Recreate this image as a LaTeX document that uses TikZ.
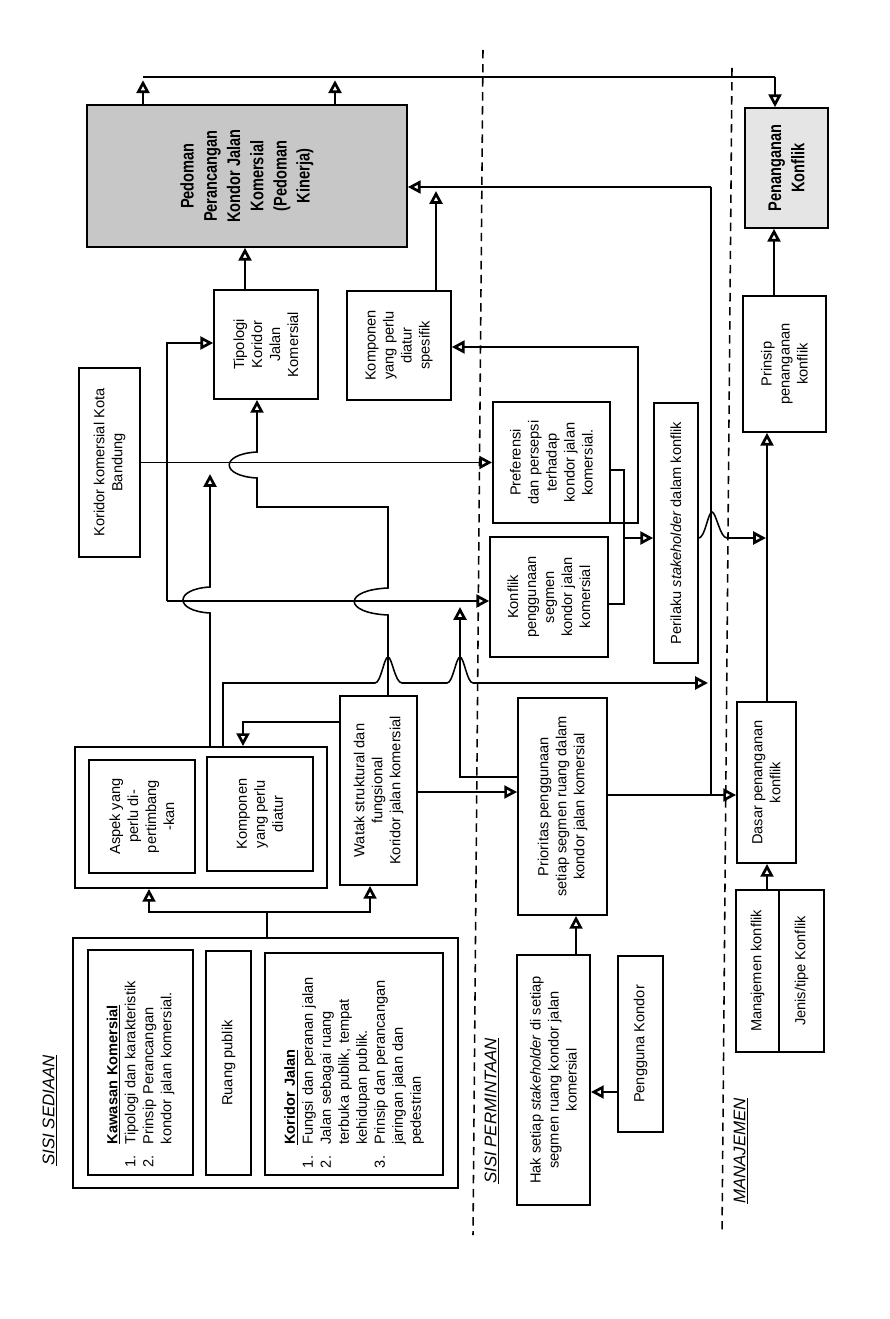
\documentclass[tikz,border=0pt]{standalone}
\usepackage{fontspec}
\setmainfont{Liberation Sans}
\newfontfamily\titlefont[FakeStretch=0.8]{Liberation Sans}
\usepackage{tikz}
\usetikzlibrary{arrows.meta}
\usetikzlibrary{calc}

\begin{document}
\begin{tikzpicture}[x=0.025cm, y=-0.025cm,
  box/.style={rectangle, draw=black, line width=1.1pt, rotate=90, align=center, inner sep=2pt,
    font=\fontsize{10.4}{12.8}\selectfont},
  greybox/.style={box, fill=black!22, font=\titlefont\bfseries\fontsize{13}{16.5}\selectfont},
  line/.style={draw=black, line width=1.1pt},
  arr/.style={line, -{Triangle[open, length=3.2mm, width=3.2mm, line width=1.9pt]}},
  side/.style={rotate=90, font=\itshape\fontsize{12}{14}\selectfont},
  divider/.style={draw=black, line width=1.1pt, dash pattern=on 6pt off 4pt}]
\useasboundingbox (0,0) rectangle (889,1319);

% sisi sediaan
\node [box, minimum width=6.25cm, minimum height=9.63cm] (sediaan) at (265.5,1063) {};
\node [box, minimum width=5.63cm, minimum height=2.63cm, text width=5.25cm, align=left] (kawasan) at (140.5,1062.5)
  {\hspace*{1.6em}\underline{\textbf{Kawasan Komersial}}\\
   \makebox[1.6em][l]{1.}Tipologi dan karakteristik\\
   \makebox[1.6em][l]{2.}Prinsip Perancangan\\
   \hspace*{1.6em}kondor jalan komersial.};
\node [box, minimum width=5.6cm, minimum height=1.13cm] (ruang) at (228.5,1063) {Ruang publik};
\node [box, minimum width=5.55cm, minimum height=4.45cm, text width=5.2cm, align=left] (koridor) at (354,1064)
  {\hspace*{1.6em}\underline{\textbf{Koridor Jalan}}\\
   \makebox[1.6em][l]{1.}Fungsi dan peranan jalan\\
   \makebox[1.6em][l]{2.}Jalan sebagai ruang\\
   \hspace*{1.6em}terbuka publik, tempat\\
   \hspace*{1.6em}kehidupan publik.\\
   \makebox[1.6em][l]{3.}Prinsip dan perancangan\\
   \hspace*{1.6em}jaringan jalan dan\\
   \hspace*{1.6em}pedestrian};

\node [box, minimum width=3.53cm, minimum height=6.3cm] (aspekgrp) at (201,817.5) {};
\node [box, minimum width=2.83cm, minimum height=2.65cm] (aspek) at (142,816.5) {Aspek yang\\perlu di-\\pertimbang\\-kan};
\node [box, minimum width=2.85cm, minimum height=2.65cm] (komponen) at (260,814) {Komponen\\yang perlu\\diatur};
\node [box, minimum width=4.73cm, minimum height=1.93cm] (watak) at (378.5,790.5) {Watak struktural dan\\fungsional\\Koridor jalan komersial};

\node [box, minimum width=4.73cm, minimum height=1.53cm] (bandung) at (109.5,462.5) {Koridor komersial Kota\\Bandung};
\node [box, minimum width=2.73cm, minimum height=2.6cm] (tipologi) at (266,344.5) {Tipologi\\Koridor\\Jalan\\Komersial};
\node [box, minimum width=2.73cm, minimum height=2.6cm] (spesifik) at (399,345.5) {Komponen\\yang perlu\\diatur\\spesifik};
\node [greybox, minimum width=3.55cm, minimum height=8cm] (pedoman) at (247,176) {Pedoman\\Perancangan\\Kondor Jalan\\Komersial\\(Pedoman\\Kinerja)};

% sisi permintaan
\node [box, minimum width=3.03cm, minimum height=2.93cm] (preferensi) at (551.5,462.5) {Preferensi\\dan persepsi\\terhadap\\kondor jalan\\komersial.};
\node [box, minimum width=3cm, minimum height=2.95cm] (konflik) at (549,597) {Konflik\\penggunaan\\segmen\\kondor jalan\\komersial};
\node [box, minimum width=6.5cm, minimum height=1.1cm] (perilaku) at (676,533) {Perilaku \textit{stakeholder} dalam konflik};
\node [box, minimum width=5.43cm, minimum height=2.23cm] (prioritas) at (562.5,806.5) {Prioritas penggunaan\\setiap segmen ruang dalam\\kondor jalan komersial};
\node [box, minimum width=6.25cm, minimum height=1.83cm] (hak) at (553.5,1080)
  {Hak setiap \textit{stakeholder} di setiap\\segmen ruang kondor jalan\\komersial};
\node [box, minimum width=4.4cm, minimum height=1.13cm] (pengguna) at (640.5,1044) {Pengguna Kondor};

% manajemen
\node [greybox, fill=black!10, minimum width=3cm, minimum height=2.08cm] (penanganan) at (786.5,168) {Penanganan\\Konflik};
\node [box, minimum width=3.4cm, minimum height=2.08cm] (prinsip) at (784.5,364) {Prinsip\\penanganan\\konflik};
\node [box, minimum width=4.03cm, minimum height=1.48cm] (dasar) at (766.5,782.5) {Dasar penanganan\\konflik};
\node [box, minimum width=4.05cm, minimum height=1.08cm] (manajemen) at (757.5,971) {Manajemen konflik};
\node [box, minimum width=4.05cm, minimum height=1.13cm] (jenis) at (801.5,971) {Jenis/tipe Konflik};

% judul sisi
\node [side, anchor=east] (lblsediaan) at (50,1050) {\underline{SISI SEDIAAN}};
\node [side, anchor=east] (lblpermintaan) at (492,1033) {\underline{SISI PERMINTAAN}};
\node [side, anchor=east] (lblmanajemen) at (741,1093) {\underline{MANAJEMEN}};
\draw [divider] (483,50) -- (473,1235);
\draw [divider] (732,68) -- (722,1235);

% ke penanganan konflik
\coordinate (topleft) at (143,77);
\coordinate (topright) at (775,77);
\draw [line] (topleft) -- (topright);
\draw [arr] (pedoman.east -| topleft) -- ++(0,-24);
\draw [arr] (pedoman.east -| 335,0) -- ++(0,-24);
\draw [arr] (topright) -- (penanganan.east -| topright);

% ke pedoman
\coordinate (kinerja) at (711,187);
\draw [arr] (spesifik.east -| 436,0) -- (436,191);
\draw [arr] (kinerja) -- (pedoman.south |- kinerja);
\draw [line] (kinerja) -- (711,795);
\draw [arr, line width=1.5pt] (tipologi.east -| 245,0) -- (pedoman.west -| 245,0);

% koridor bandung
\draw [arr] (bandung.south) -- (preferensi.north |- bandung.south);
\draw [arr] (watak.east -| 388,0) -- (388,615) .. controls (343,613) and (343,590) .. (388,588)
  -- (388,507) -- (257,507) -- (257,478) .. controls (220,476) and (220,454) .. (257,452)
  -- (tipologi.west -| 257,0);
\draw [arr] (aspekgrp.east -| 210,0) -- (210,613) .. controls (174,611) and (174,589) .. (210,587) -- (210,474);

% ke konflik penggunaan dan tipologi
\coordinate (split) at (167,601);
\draw [arr] (prioritas.north |- 0,777) -- (460,777) -- (460,607);
\draw [arr] (split) -- (konflik.north |- split);
\draw [arr] (split) -- (167,343) -- (tipologi.north |- 0,343);
\draw [arr] (aspekgrp.east -| 223,0) -- (223,683) -- (375,683)
  .. controls (381,683) and (384,657) .. (388,657) .. controls (392,657) and (395,683) .. (402,683)
  -- (447,683) .. controls (453,683) and (456,657) .. (460,657) .. controls (464,657) and (467,683) .. (473,683)
  -- (708,683);

% watak dan prioritas
\draw [arr] (watak.north |- 0,722) -- (243,722) -- (aspekgrp.east -| 243,0);
\draw [arr, line width=1.5pt] (watak.south |- 0,792) -- (prioritas.north |- 0,792);
\draw [arr] (prioritas.south |- 0,795) -- (dasar.north |- 0,795);
\draw [arr, line width=1.5pt] (hak.east -| 576,0) -- (prioritas.west -| 576,0);
\draw [arr] (pengguna.north |- 0,1092) -- (hak.south |- 0,1092);
\draw [arr] (267,912) -- (149,912) -- (aspekgrp.west -| 149,0);
\draw [arr] (267,912) -- (370,912) -- (watak.west -| 370,0);
\draw [line] (sediaan.east -| 267,0) -- (267,912);

% preferensi, konflik, perilaku
\draw [line] (preferensi.south |- 0,470) -- (624,470) -- (624,604) -- (konflik.south |- 0,604);
\draw [arr] (624,538) -- (perilaku.north |- 0,538);
\draw [arr] (preferensi.south |- 0,523) -- (638,523) -- (638,347) -- (spesifik.south |- 0,347);
\draw [arr] (perilaku.south |- 0,538) .. controls (705,538) and (708,512) .. (712,512)
  .. controls (716,512) and (720,538) .. (727,538) -- (766,538);

% manajemen konflik
\draw [arr, line width=1.5pt] (manajemen.east -| 767,0) -- (dasar.west -| 767,0);
\draw [arr, line width=1.5pt] (dasar.east -| 767,0) -- (prinsip.west -| 767,0);
\draw [arr, line width=1.5pt] (prinsip.east -| 774,0) -- (penanganan.west -| 774,0);
\end{tikzpicture}
\end{document}
